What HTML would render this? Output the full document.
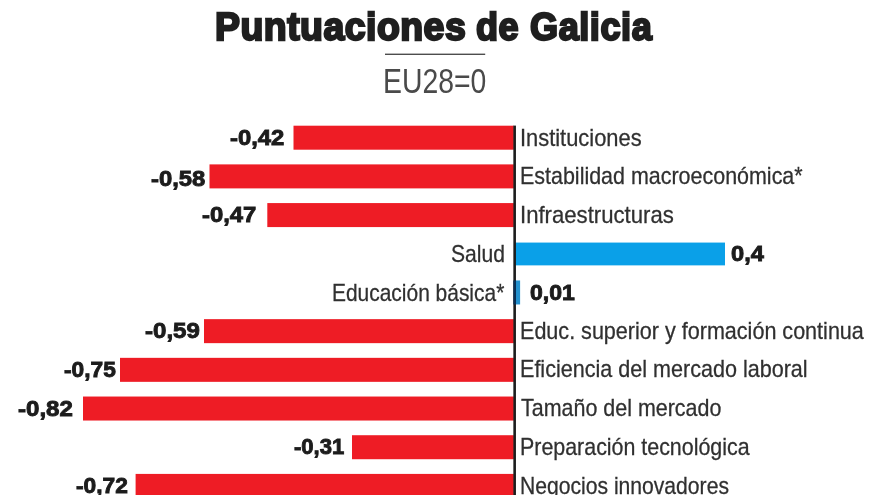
<!DOCTYPE html>
<html lang="es">
<head>
<meta charset="utf-8">
<title>Puntuaciones de Galicia</title>
<style>
html,body{margin:0;padding:0;background:#fff;}
body{width:880px;height:495px;overflow:hidden;font-family:"Liberation Sans",sans-serif;}
#w{position:relative;width:880px;height:495px;overflow:hidden;background:#fff;}
#c{position:absolute;left:0;top:0;width:880px;height:540px;background:#fff;filter:blur(0.55px);}
.t{position:absolute;white-space:nowrap;line-height:1;transform-origin:0 0;margin:0;padding:0;}
svg{position:absolute;left:0;top:0;}
</style>
</head>
<body>
<div id="w">
<div id="c">
<svg width="880" height="540" viewBox="0 0 880 540">
<rect x="293.50" y="125.70" width="220.35" height="24.0" fill="#ee1c25"/>
<rect x="209.50" y="164.39" width="304.35" height="24.0" fill="#ee1c25"/>
<rect x="267.30" y="203.08" width="246.55" height="24.0" fill="#ee1c25"/>
<rect x="514.35" y="242.57" width="210.65" height="22.8" fill="#0aa0e8"/>
<rect x="514.35" y="280.46" width="5.75" height="24.0" fill="#2391cf"/>
<rect x="204.00" y="319.15" width="309.85" height="24.0" fill="#ee1c25"/>
<rect x="120.00" y="357.84" width="393.85" height="24.0" fill="#ee1c25"/>
<rect x="83.00" y="396.53" width="430.85" height="24.0" fill="#ee1c25"/>
<rect x="352.00" y="435.22" width="161.85" height="24.0" fill="#ee1c25"/>
<rect x="135.60" y="473.91" width="378.25" height="24.0" fill="#ee1c25"/>
<rect x="513.35" y="125.6" width="2.6" height="400" fill="#1d1d1d"/>
<rect x="513.35" y="280.46" width="2.6" height="24.0" fill="#0b2f55"/>
<rect x="385" y="53.6" width="100.2" height="1.4" fill="#4d4d4d"/>
</svg>
<div class="t" style="left:215.34px;top:8px;font-size:38.7px;font-weight:700;color:#1f1f1f;-webkit-text-stroke:2.3px #1f1f1f;letter-spacing:0.5px;transform:scaleX(0.9675)">Puntuaciones</div>
<div class="t" style="left:476.41px;top:8px;font-size:38.7px;font-weight:700;color:#1f1f1f;-webkit-text-stroke:2.3px #1f1f1f;letter-spacing:0.5px;transform:scaleX(0.9321)">de</div>
<div class="t" style="left:529.51px;top:8px;font-size:38.7px;font-weight:700;color:#1f1f1f;-webkit-text-stroke:2.3px #1f1f1f;letter-spacing:0.6px;transform:scaleX(0.9330)">Galicia</div>
<div class="t" style="left:382.71px;top:63px;font-size:35px;font-weight:400;color:#4a4a4a;transform:scaleX(0.8104)">EU28=0</div>
<div class="t" style="left:519.77px;top:126px;font-size:24px;font-weight:400;color:#303030;-webkit-text-stroke:0.28px #303030;transform:scaleX(0.9112)">Instituciones</div>
<div class="t" style="left:519.92px;top:164px;font-size:24px;font-weight:400;color:#303030;-webkit-text-stroke:0.28px #303030;transform:scaleX(0.8940)">Estabilidad macroeconómica*</div>
<div class="t" style="left:519.74px;top:203px;font-size:24px;font-weight:400;color:#303030;-webkit-text-stroke:0.28px #303030;transform:scaleX(0.9222)">Infraestructuras</div>
<div class="t" style="left:450.56px;top:242px;font-size:24px;font-weight:400;color:#303030;-webkit-text-stroke:0.28px #303030;transform:scaleX(0.8785)">Salud</div>
<div class="t" style="left:331.66px;top:281px;font-size:24px;font-weight:400;color:#303030;-webkit-text-stroke:0.28px #303030;transform:scaleX(0.8725)">Educación básica*</div>
<div class="t" style="left:519.91px;top:319px;font-size:24px;font-weight:400;color:#303030;-webkit-text-stroke:0.28px #303030;transform:scaleX(0.8981)">Educ. superior y formación continua</div>
<div class="t" style="left:519.91px;top:357px;font-size:24px;font-weight:400;color:#303030;-webkit-text-stroke:0.28px #303030;transform:scaleX(0.8983)">Eficiencia del mercado laboral</div>
<div class="t" style="left:520.81px;top:396px;font-size:24px;font-weight:400;color:#303030;-webkit-text-stroke:0.28px #303030;transform:scaleX(0.8940)">Tamaño del mercado</div>
<div class="t" style="left:519.92px;top:435px;font-size:24px;font-weight:400;color:#303030;-webkit-text-stroke:0.28px #303030;transform:scaleX(0.8916)">Preparación tecnológica</div>
<div class="t" style="left:519.94px;top:474px;font-size:24px;font-weight:400;color:#303030;-webkit-text-stroke:0.28px #303030;transform:scaleX(0.8798)">Negocios innovadores</div>
<div class="t" style="left:230.01px;top:127px;font-size:22.4px;font-weight:700;color:#1c1c1c;-webkit-text-stroke:0.9px #1c1c1c;transform:scaleX(1.0643)">-0,42</div>
<div class="t" style="left:150.51px;top:168px;font-size:22.4px;font-weight:700;color:#1c1c1c;-webkit-text-stroke:0.9px #1c1c1c;transform:scaleX(1.0633)">-0,58</div>
<div class="t" style="left:202.01px;top:204px;font-size:22.4px;font-weight:700;color:#1c1c1c;-webkit-text-stroke:0.9px #1c1c1c;transform:scaleX(1.0643)">-0,47</div>
<div class="t" style="left:730.51px;top:243px;font-size:22.4px;font-weight:700;color:#1c1c1c;-webkit-text-stroke:0.9px #1c1c1c;transform:scaleX(1.0554)">0,4</div>
<div class="t" style="left:529.51px;top:282px;font-size:22.4px;font-weight:700;color:#1c1c1c;-webkit-text-stroke:0.9px #1c1c1c;transform:scaleX(1.0289)">0,01</div>
<div class="t" style="left:145.21px;top:320px;font-size:22.4px;font-weight:700;color:#1c1c1c;-webkit-text-stroke:0.9px #1c1c1c;transform:scaleX(1.0740)">-0,59</div>
<div class="t" style="left:63.71px;top:359px;font-size:22.4px;font-weight:700;color:#1c1c1c;-webkit-text-stroke:0.9px #1c1c1c;transform:scaleX(1.0142)">-0,75</div>
<div class="t" style="left:18.01px;top:398px;font-size:22.4px;font-weight:700;color:#1c1c1c;-webkit-text-stroke:0.9px #1c1c1c;transform:scaleX(1.0741)">-0,82</div>
<div class="t" style="left:293.51px;top:436px;font-size:22.4px;font-weight:700;color:#1c1c1c;-webkit-text-stroke:0.9px #1c1c1c;transform:scaleX(0.9848)">-0,31</div>
<div class="t" style="left:75.51px;top:475px;font-size:22.4px;font-weight:700;color:#1c1c1c;-webkit-text-stroke:0.9px #1c1c1c;transform:scaleX(1.0153)">-0,72</div>
</div>
</div>
</body>
</html>
